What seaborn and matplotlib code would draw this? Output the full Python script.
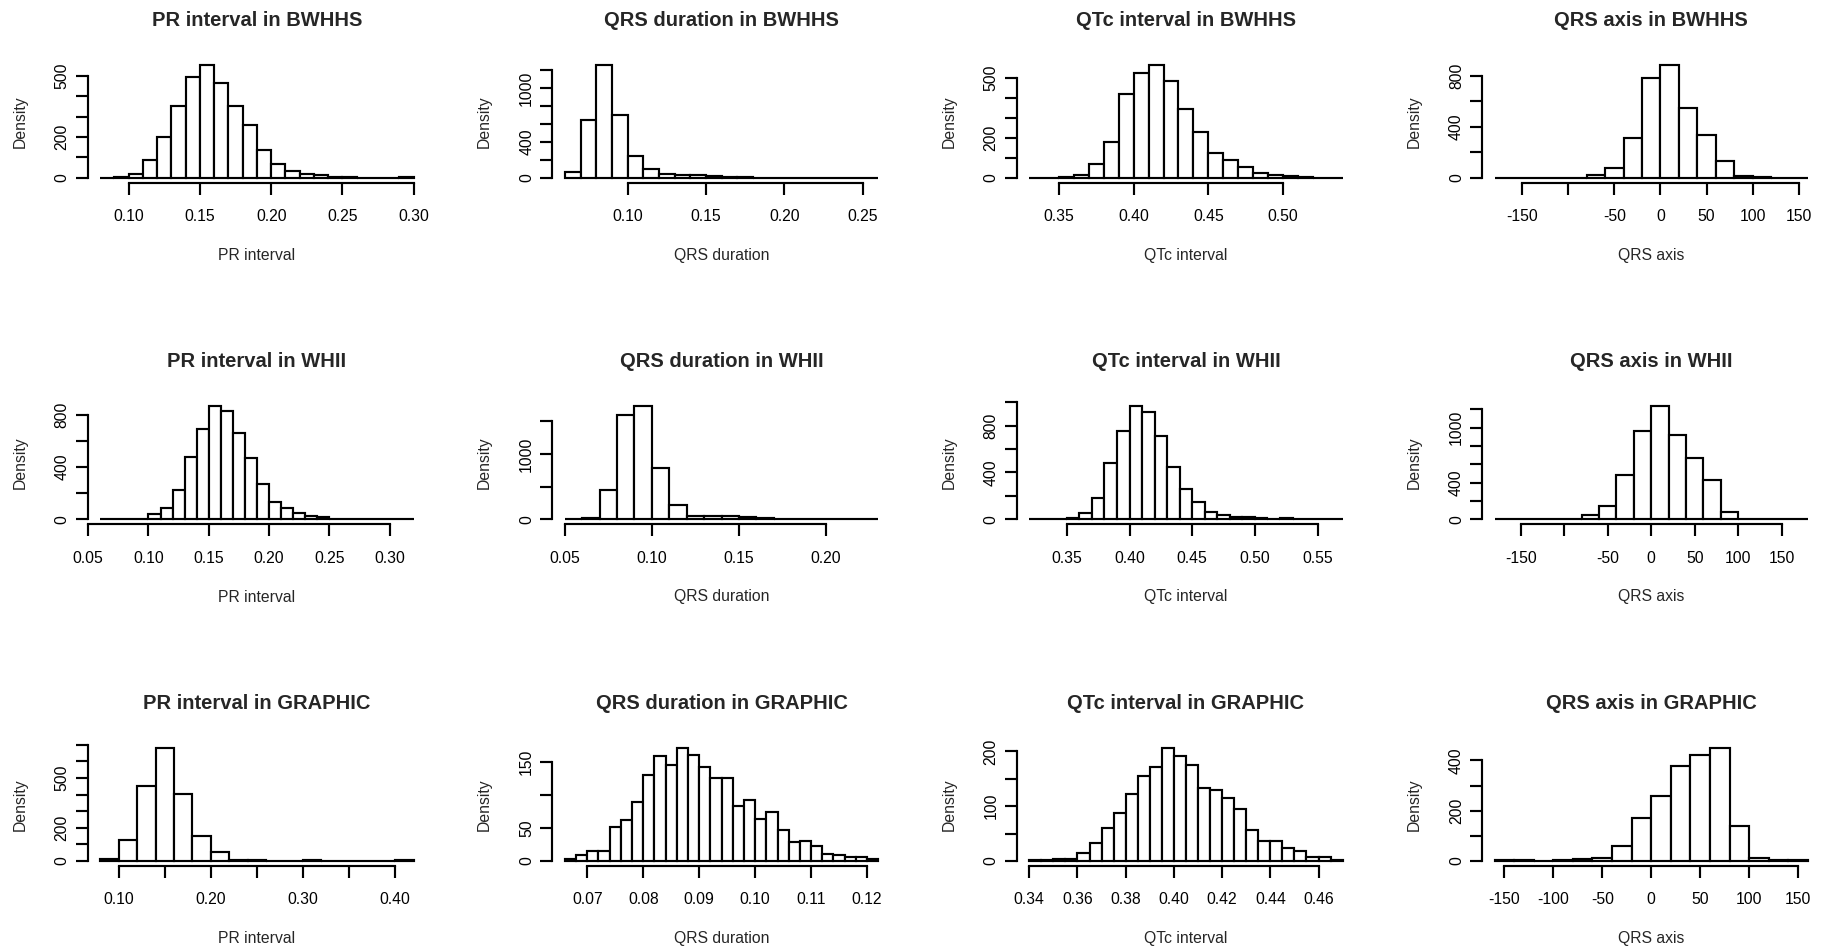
import numpy as np
import pandas as pd
import matplotlib
matplotlib.use("Agg")
import matplotlib.pyplot as plt
import seaborn as sns

sns.set_style("ticks")
plt.rcParams['font.family'] = ['Liberation Sans', 'DejaVu Sans']

# ---------------- data ----------------
studies = ["BWHHS", "WHII", "GRAPHIC"]
measures = ["PR interval", "QRS duration", "QTc interval", "QRS axis"]

# breaks: (first break, last break, number of bins)
pr_bwhhs_breaks = (0.08, 0.30, 22)
pr_bwhhs_density = [2, 5, 21, 86, 199, 350, 493, 554, 464, 350, 257, 135, 67, 33,
                    21, 13, 5, 3, 2, 1, 1, 3]
qrs_bwhhs_breaks = (0.06, 0.26, 20)
qrs_bwhhs_density = [63, 652, 1266, 700, 246, 104, 48, 34, 30, 19, 10, 6, 4, 3,
                     2, 2, 1, 1, 1, 1]
qtc_bwhhs_breaks = (0.33, 0.54, 21)
qtc_bwhhs_density = [1, 1, 3, 17, 71, 179, 420, 525, 565, 483, 343, 227, 126, 89,
                     53, 23, 15, 10, 5, 2, 1]
axis_bwhhs_breaks = (-180, 160, 17)
axis_bwhhs_density = [1, 1, 1, 1, 3, 23, 81, 313, 784, 886, 547, 334, 133, 18, 8, 3, 2]

pr_whii_breaks = (0.06, 0.32, 26)
pr_whii_density = [3, 0, 3, 5, 41, 87, 225, 478, 687, 866, 825, 662, 467, 273, 135,
                   87, 49, 28, 15, 5, 3, 2, 2, 0, 0, 3]
qrs_whii_breaks = (0.05, 0.23, 18)
qrs_whii_density = [2, 25, 444, 1597, 1730, 791, 219, 51, 51, 51, 36, 15, 2, 1, 1, 1, 1, 1]
qtc_whii_breaks = (0.32, 0.57, 25)
qtc_whii_density = [0, 0, 0, 11, 54, 180, 480, 757, 966, 914, 709, 446, 260, 149, 66,
                    34, 20, 20, 11, 3, 11, 1, 1, 1, 1]
axis_whii_breaks = (-180, 180, 18)
axis_whii_density = [1, 1, 1, 1, 1, 47, 146, 485, 964, 1237, 923, 668, 427, 77, 3, 1, 1, 1]

pr_graphic_breaks = (0.08, 0.42, 17)
pr_graphic_density = [14, 129, 453, 684, 406, 149, 52, 6, 3, 1, 1, 3, 1, 1, 1, 1, 3]
qrs_graphic_breaks = (0.066, 0.122, 28)
qrs_graphic_density = [2.5, 9.6, 15.7, 15.7, 51.6, 61.7, 89, 129.6, 159, 145, 171.6,
                       160, 142, 125, 125, 82.5, 91.6, 63, 74, 47, 29, 30, 22, 10, 9,
                       6, 6, 2.5]
qtc_graphic_breaks = (0.34, 0.47, 26)
qtc_graphic_density = [1, 1, 3, 4, 15, 32, 61, 87.5, 123, 155, 171, 207, 192, 175,
                       133, 130, 114, 95.5, 57, 37, 36, 23, 18, 7, 8, 2.5]
axis_graphic_breaks = (-160, 160, 16)
axis_graphic_density = [4, 4, 1, 3, 8, 12, 58, 169, 260, 376, 421, 451, 138, 12, 3, 3]

# tick positions / labels (blank = label dropped as in the reference)
x_ticks = [
    [[0.10, 0.15, 0.20, 0.25, 0.30], ["0.10", "0.15", "0.20", "0.25", "0.30"]],
    [[0.10, 0.15, 0.20, 0.25], ["0.10", "0.15", "0.20", "0.25"]],
    [[0.35, 0.40, 0.45, 0.50], ["0.35", "0.40", "0.45", "0.50"]],
    [[-150, -100, -50, 0, 50, 100, 150], ["-150", "", "-50", "0", "50", "100", "150"]],
    [[0.05, 0.10, 0.15, 0.20, 0.25, 0.30], ["0.05", "0.10", "0.15", "0.20", "0.25", "0.30"]],
    [[0.05, 0.10, 0.15, 0.20], ["0.05", "0.10", "0.15", "0.20"]],
    [[0.35, 0.40, 0.45, 0.50, 0.55], ["0.35", "0.40", "0.45", "0.50", "0.55"]],
    [[-150, -100, -50, 0, 50, 100, 150], ["-150", "", "-50", "0", "50", "100", "150"]],
    [[0.10, 0.15, 0.20, 0.25, 0.30, 0.35, 0.40], ["0.10", "", "0.20", "", "0.30", "", "0.40"]],
    [[0.07, 0.08, 0.09, 0.10, 0.11, 0.12], ["0.07", "0.08", "0.09", "0.10", "0.11", "0.12"]],
    [[0.34, 0.36, 0.38, 0.40, 0.42, 0.44, 0.46], ["0.34", "0.36", "0.38", "0.40", "0.42", "0.44", "0.46"]],
    [[-150, -100, -50, 0, 50, 100, 150], ["-150", "-100", "-50", "0", "50", "100", "150"]],
]
y_ticks = [
    [[0, 100, 200, 300, 400, 500], ["0", "", "200", "", "", "500"]],
    [[0, 200, 400, 600, 800, 1000, 1200], ["0", "", "400", "", "", "1000", ""]],
    [[0, 100, 200, 300, 400, 500], ["0", "", "200", "", "", "500"]],
    [[0, 200, 400, 600, 800], ["0", "", "400", "", "800"]],
    [[0, 200, 400, 600, 800], ["0", "", "400", "", "800"]],
    [[0, 500, 1000, 1500], ["0", "", "1000", ""]],
    [[0, 200, 400, 600, 800, 1000], ["0", "", "400", "", "800", ""]],
    [[0, 200, 400, 600, 800, 1000, 1200], ["0", "", "400", "", "", "1000", ""]],
    [[0, 100, 200, 300, 400, 500, 600, 700], ["0", "", "200", "", "", "500", "", ""]],
    [[0, 50, 100, 150], ["0", "50", "", "150"]],
    [[0, 50, 100, 150, 200], ["0", "", "100", "", "200"]],
    [[0, 100, 200, 300, 400], ["0", "", "200", "", "400"]],
]

panels = [
    (pr_bwhhs_breaks, pr_bwhhs_density), (qrs_bwhhs_breaks, qrs_bwhhs_density),
    (qtc_bwhhs_breaks, qtc_bwhhs_density), (axis_bwhhs_breaks, axis_bwhhs_density),
    (pr_whii_breaks, pr_whii_density), (qrs_whii_breaks, qrs_whii_density),
    (qtc_whii_breaks, qtc_whii_density), (axis_whii_breaks, axis_whii_density),
    (pr_graphic_breaks, pr_graphic_density), (qrs_graphic_breaks, qrs_graphic_density),
    (qtc_graphic_breaks, qtc_graphic_density), (axis_graphic_breaks, axis_graphic_density),
]

# ---------------- layout ----------------
W, H = 1825, 951
fig = plt.figure(figsize=(W / 100, H / 100), dpi=100)
fig.patch.set_facecolor("white")

col_left = [87.7, 552.3, 1016.7, 1482.0]
row_top = [60.0, 401.5, 743.0]
pw, ph = 338.5, 122.5
LW = 1.55
FS = 11.3

for i, ((lo, hi, n), dens) in enumerate(panels):
    r, c = divmod(i, 4)
    ax = fig.add_axes([col_left[c] / W, 1 - (row_top[r] + ph) / H, pw / W, ph / H])
    ax.set_facecolor("white")
    edges = np.linspace(lo, hi, n + 1)
    centers = (edges[:-1] + edges[1:]) / 2
    df = pd.DataFrame({"value": centers, "density": np.asarray(dens, dtype=float)})
    sns.histplot(data=df, x="value", weights="density", bins=n, binrange=(lo, hi),
                 stat="count", ax=ax, color="white", edgecolor="black",
                 linewidth=LW, alpha=1)
    rng = hi - lo
    ax.set_xlim(lo - 0.04 * rng, hi + 0.04 * rng)
    ymax = max(dens)
    ax.set_ylim(-0.04 * ymax, 1.04 * ymax)

    xt, xtl = x_ticks[i]
    yt, ytl = y_ticks[i]
    ax.set_xticks(xt)
    ax.set_xticklabels(xtl)
    ax.set_yticks(yt)
    ax.set_yticklabels(ytl, rotation=90, va="center", ha="center")

    for s in ("top", "right"):
        ax.spines[s].set_visible(False)
    ax.spines["bottom"].set_bounds(xt[0], xt[-1])
    ax.spines["left"].set_bounds(yt[0], yt[-1])
    for s in ("bottom", "left"):
        ax.spines[s].set_linewidth(LW)
        ax.spines[s].set_color("black")

    ax.tick_params(axis="both", direction="out", length=8.4, width=LW,
                   labelsize=FS, colors="black")
    ax.tick_params(axis="x", pad=11)
    ax.tick_params(axis="y", pad=10)

    ax.set_title(f"{measures[c]} in {studies[r]}", fontsize=14.5,
                 fontweight="bold", pad=24.5)
    ax.set_xlabel(measures[c], fontsize=FS, va="center")
    ax.xaxis.set_label_coords(0.5, -73 / ph)
    ax.set_ylabel("Density", fontsize=FS, va="center")
    ax.yaxis.set_label_coords(-67.7 / pw, 0.5)

fig.savefig("out.png", dpi=100, facecolor="white")
